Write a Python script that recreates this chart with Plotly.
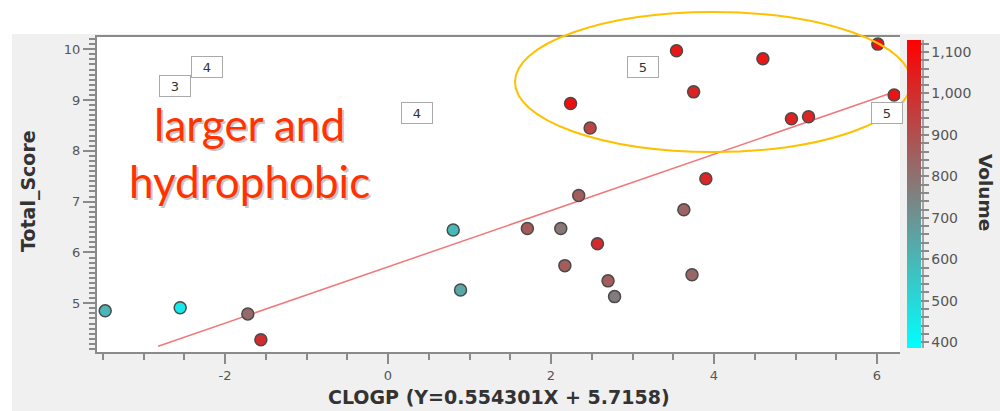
import plotly.graph_objects as go

# ---- data ----
clogp = [-3.47, -2.55, -1.72, -1.56, 0.80, 0.89, 3.54, 4.60, 6.01, 3.75, 2.24, 2.48,
         4.95, 5.16, 6.21, 3.90, 2.34, 3.63, 1.71, 2.12, 2.57, 2.17, 3.73, 2.70, 2.78]
total_score = [4.85, 4.91, 4.79, 4.28, 6.44, 5.26, 9.97, 9.81, 10.10, 9.16, 8.93, 8.45,
               8.63, 8.67, 9.10, 7.45, 7.12, 6.84, 6.47, 6.47, 6.17, 5.74, 5.56, 5.44, 5.13]
volume = [600, 450, 820, 1000, 590, 640, 1060, 1060, 1080, 1030, 1090, 930,
          1030, 1020, 1070, 1020, 860, 840, 870, 780, 1010, 860, 830, 860, 770]

fit_slope = 0.554301
fit_intercept = 5.7158
fit_x = [-2.82, 6.21]
fit_y = [fit_slope * v + fit_intercept for v in fit_x]

label_x = [-2.22, -2.61, 0.36, 3.13, 6.12]
label_y = [9.65, 9.28, 8.75, 9.65, 8.75]
label_text = ["4", "3", "4", "5", "5"]

x_ticks = [-2, 0, 2, 4, 6]
x_tick_text = ["-2", "0", "2", "4", "6"]
y_ticks = [5, 6, 7, 8, 9, 10]
colorbar_ticks = [400, 500, 600, 700, 800, 900, 1000, 1100]

# ---- layout geometry ----
W, H = 1000, 411
ML, MR, MT, MB = 97, 100, 37, 59
PW, PH = W - ML - MR, H - MT - MB


def px_x(p):
    return (p - ML) / PW


def px_y(p):
    return (H - MB - p) / PH


AXIS_GRAY = "#8a8a8a"
TICK_FONT = dict(family="DejaVu Sans", size=13, color="#555555")
TITLE_FONT = dict(family="DejaVu Sans", size=19, color="#333333")

fig = go.Figure()

fig.add_trace(go.Scatter(
    x=fit_x, y=fit_y, mode="lines",
    line=dict(color="rgb(240,120,120)", width=1.5),
    hoverinfo="skip", showlegend=False))

cb_vals = list(range(400, 1121, 20))
fig.add_trace(go.Scatter(
    x=clogp, y=total_score, mode="markers", showlegend=False,
    marker=dict(
        size=12, color=volume, cmin=386, cmax=1129,
        colorscale=[[0, "#00ffff"], [0.5, "#808080"], [1, "#ff0000"]],
        line=dict(color="#4a4a4a", width=1.5),
        colorbar=dict(
            x=px_x(907), xanchor="left", xpad=0,
            y=px_y(194), yanchor="middle", ypad=0,
            len=308, lenmode="pixels", thickness=14,
            outlinewidth=0,
            tickvals=cb_vals,
            ticktext=[f"{v:,}" if v in colorbar_ticks else "" for v in cb_vals],
            ticks="outside", ticklen=8, tickcolor=AXIS_GRAY, tickwidth=1.5,
            tickfont=dict(family="DejaVu Sans", size=14, color="#555555"),
        ),
    )))

for x, y, t in zip(label_x, label_y, label_text):
    fig.add_annotation(x=x, y=y, text=t, showarrow=False,
                       xanchor="center", yanchor="middle",
                       font=dict(family="DejaVu Sans", size=13, color="#333333"),
                       bgcolor="white", bordercolor="#aaaaaa", borderwidth=1,
                       width=28, height=18)

# big text with shadow
big_text = "larger and<br>hydrophobic"
for dx, dy, col in [(2, -2, "rgba(0,0,0,0.22)"), (0, 0, "#ff3300")]:
    fig.add_annotation(x=px_x(249), y=px_y(152), xref="paper", yref="paper",
                       xanchor="center", yanchor="middle",
                       text=big_text, showarrow=False, align="center",
                       xshift=dx, yshift=dy,
                       font=dict(family="Lato", size=44, color=col))

# axis titles
fig.add_annotation(x=px_x(28), y=px_y(191), xref="paper", yref="paper",
                   xanchor="center", yanchor="middle",
                   text="<b>Total_Score</b>", textangle=-90, showarrow=False,
                   font=TITLE_FONT)
fig.add_annotation(x=px_x(499), y=px_y(397), xref="paper", yref="paper",
                   xanchor="center", yanchor="middle",
                   text="<b>CLOGP (Y=0.554301X + 5.7158)</b>", showarrow=False,
                   font=TITLE_FONT)
fig.add_annotation(x=px_x(986), y=px_y(192), xref="paper", yref="paper",
                   xanchor="center", yanchor="middle",
                   text="<b>Volume</b>", textangle=90, showarrow=False,
                   font=dict(family="DejaVu Sans", size=18.5, color="#333333"))

# gray panel background and white plot area
fig.add_shape(type="rect", xref="paper", yref="paper",
              x0=px_x(12), x1=px_x(1000), y0=px_y(411), y1=px_y(34),
              fillcolor="#f0f0f0", line=dict(width=0), layer="below")
fig.add_shape(type="rect", xref="paper", yref="paper",
              x0=0, x1=1, y0=0, y1=1,
              fillcolor="white", line=dict(width=0), layer="below")
# colorbar axis line
fig.add_shape(type="line", xref="paper", yref="paper",
              x0=px_x(923), x1=px_x(923), y0=px_y(348), y1=px_y(40),
              line=dict(color=AXIS_GRAY, width=1.5))
# yellow ellipse
fig.add_shape(type="circle", xref="paper", yref="paper",
              x0=px_x(515), x1=px_x(911), y0=px_y(152), y1=px_y(12),
              line=dict(color="#ffc000", width=2))

fig.update_xaxes(
    range=[(ML - 388) / 81.5, (W - MR - 388) / 81.5],
    tickvals=x_ticks, ticktext=x_tick_text,
    ticks="outside", ticklen=10, tickwidth=1.5,
    tickcolor=AXIS_GRAY, tickfont=TICK_FONT,
    minor=dict(dtick=0.5, tick0=0, ticks="outside", ticklen=6, tickcolor=AXIS_GRAY),
    showline=True, linecolor=AXIS_GRAY, linewidth=2, mirror=True,
    showgrid=False, zeroline=False)
fig.update_yaxes(
    range=[4.04, 10.24],
    tickvals=y_ticks, ticks="outside", ticklen=12, tickwidth=1.5,
    tickcolor=AXIS_GRAY, tickfont=TICK_FONT,
    minor=dict(dtick=0.1, tick0=0, ticks="outside", ticklen=6, tickcolor=AXIS_GRAY),
    showline=True, linecolor=AXIS_GRAY, linewidth=2, mirror=False,
    showgrid=False, zeroline=False)

fig.update_layout(
    width=W, height=H,
    margin=dict(l=ML, r=MR, t=MT, b=MB),
    paper_bgcolor="white", plot_bgcolor="white",
    showlegend=False,
)

fig.write_html("out.html", config={"displayModeBar": False},
               post_script="document.body.style.margin='0';")
